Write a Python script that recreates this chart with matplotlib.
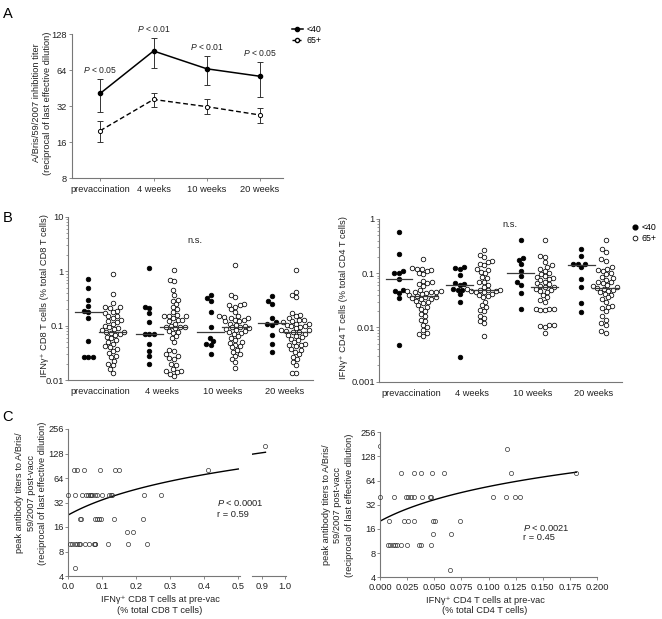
import numpy as np
import matplotlib
matplotlib.use("Agg")
import matplotlib.pyplot as plt
from matplotlib.lines import Line2D
from matplotlib.ticker import FixedLocator, NullLocator, NullFormatter, FuncFormatter, LogLocator

plt.rcParams['font.family'] = ['Liberation Sans', 'DejaVu Sans']
plt.rcParams['mathtext.fontset'] = 'custom'
plt.rcParams['mathtext.rm'] = 'Liberation Sans'
plt.rcParams['mathtext.it'] = 'Liberation Sans:italic'

FS = 6.7
INK = '#222222'
AXC = '#777777'

# ---------------- data ----------------
timepoints = ["prevaccination", "4 weeks", "10 weeks", "20 weeks"]

# panel A: HAI titers (geometric mean with error bar ends)
young_titer = [40.8, 92.3, 65.5, 56.7]
young_hi = [54.1, 119.3, 84.2, 75.1]
young_lo = [28.3, 66.0, 47.6, 38.2]
old_titer = [19.9, 36.3, 31.6, 26.9]
old_hi = [23.8, 41.4, 36.3, 30.9]
old_lo = [16.1, 31.6, 27.3, 22.9]
p_labels = ["< 0.05", "< 0.01", "< 0.01", "< 0.05"]

# panel B left: IFNg+ CD8 T cells (% of CD8)
cd8_young = [
    [0.72, 0.50, 0.30, 0.23, 0.19, 0.18, 0.137, 0.053, 0.027, 0.027, 0.027],
    [1.13, 0.22, 0.21, 0.17, 0.115, 0.07, 0.07, 0.07, 0.046, 0.035, 0.028, 0.02],
    [0.36, 0.32, 0.28, 0.176, 0.096, 0.06, 0.052, 0.047, 0.044, 0.03],
    [0.355, 0.28, 0.25, 0.14, 0.115, 0.11, 0.105, 0.068, 0.047, 0.033],
]
cd8_old = [
    [0.9, 0.38, 0.26, 0.22, 0.22, 0.21, 0.19, 0.18, 0.17, 0.15, 0.15, 0.14, 0.13, 0.12, 0.115,
     0.11, 0.1, 0.095, 0.09, 0.088, 0.082, 0.078, 0.077, 0.075, 0.072, 0.068, 0.063, 0.06, 0.055,
     0.05, 0.047, 0.042, 0.04, 0.037, 0.035, 0.032, 0.028, 0.027, 0.023, 0.02, 0.019, 0.016, 0.0135],
    [1.05, 0.7, 0.65, 0.45, 0.37, 0.3, 0.29, 0.25, 0.22, 0.2, 0.18, 0.16, 0.15, 0.15, 0.15, 0.14,
     0.13, 0.13, 0.12, 0.11, 0.1, 0.096, 0.095, 0.093, 0.09, 0.08, 0.078, 0.075, 0.065, 0.06, 0.05,
     0.036, 0.034, 0.03, 0.028, 0.026, 0.025, 0.02, 0.019, 0.016, 0.015, 0.015, 0.014, 0.013, 0.012],
    [1.3, 0.36, 0.34, 0.25, 0.24, 0.24, 0.22, 0.2, 0.18, 0.15, 0.15, 0.145, 0.14, 0.14, 0.13, 0.13,
     0.12, 0.12, 0.11, 0.105, 0.1, 0.095, 0.093, 0.09, 0.088, 0.085, 0.08, 0.078, 0.075, 0.072,
     0.065, 0.06, 0.055, 0.05, 0.048, 0.045, 0.042, 0.04, 0.036, 0.033, 0.03, 0.028, 0.025, 0.022, 0.0165],
    [1.05, 0.41, 0.36, 0.33, 0.17, 0.16, 0.15, 0.14, 0.13, 0.13, 0.12, 0.115, 0.11, 0.11, 0.105, 0.1,
     0.098, 0.095, 0.09, 0.085, 0.082, 0.08, 0.078, 0.076, 0.072, 0.068, 0.066, 0.062, 0.058, 0.055,
     0.05, 0.047, 0.045, 0.044, 0.042, 0.038, 0.036, 0.033, 0.03, 0.027, 0.025, 0.022, 0.019, 0.0135, 0.0135],
]

# panel B right: IFNg+ CD4 T cells (% of CD4)
cd4_young = [
    [0.57, 0.23, 0.11, 0.103, 0.1, 0.077, 0.05, 0.047, 0.044, 0.035, 0.0047],
    [0.128, 0.125, 0.12, 0.093, 0.066, 0.062, 0.061, 0.052, 0.05, 0.049, 0.041, 0.03, 0.0028],
    [0.41, 0.19, 0.175, 0.146, 0.11, 0.089, 0.07, 0.061, 0.044, 0.0216],
    [0.28, 0.21, 0.148, 0.148, 0.148, 0.13, 0.077, 0.055, 0.028, 0.019],
]
cd4_old = [
    [0.18, 0.125, 0.12, 0.12, 0.115, 0.11, 0.1, 0.095, 0.072, 0.068, 0.065, 0.062, 0.058, 0.05,
     0.048, 0.047, 0.046, 0.045, 0.045, 0.044, 0.042, 0.04, 0.038, 0.037, 0.036, 0.035, 0.034,
     0.033, 0.031, 0.03, 0.028, 0.026, 0.024, 0.022, 0.02, 0.018, 0.016, 0.014, 0.013, 0.011,
     0.01, 0.009, 0.008, 0.0075, 0.007],
    [0.27, 0.22, 0.2, 0.17, 0.16, 0.15, 0.14, 0.12, 0.115, 0.105, 0.1, 0.085, 0.08, 0.07, 0.068,
     0.06, 0.055, 0.052, 0.05, 0.05, 0.049, 0.048, 0.047, 0.046, 0.045, 0.042, 0.04, 0.038, 0.036,
     0.03, 0.026, 0.024, 0.021, 0.02, 0.016, 0.015, 0.013, 0.012, 0.007],
    [0.41, 0.21, 0.2, 0.16, 0.14, 0.13, 0.12, 0.11, 0.1, 0.098, 0.09, 0.085, 0.08, 0.078, 0.075,
     0.07, 0.066, 0.062, 0.058, 0.056, 0.055, 0.052, 0.05, 0.047, 0.045, 0.04, 0.036, 0.032, 0.03,
     0.022, 0.022, 0.021, 0.021, 0.022, 0.011, 0.0105, 0.01, 0.011, 0.0078],
    [0.41, 0.28, 0.25, 0.18, 0.17, 0.13, 0.12, 0.115, 0.11, 0.1, 0.095, 0.085, 0.08, 0.075, 0.07,
     0.068, 0.065, 0.06, 0.058, 0.055, 0.053, 0.052, 0.05, 0.048, 0.045, 0.042, 0.04, 0.036, 0.034,
     0.03, 0.025, 0.024, 0.023, 0.02, 0.016, 0.014, 0.012, 0.011, 0.0085, 0.008],
]

# panel C left: pre-vac CD8 response vs peak titer
cd8_pre = [0.017, 0.027, 0.047, 0.094, 0.137, 0.151, 0.41,
           0.0, 0.02, 0.04, 0.054, 0.06, 0.064, 0.067, 0.07, 0.078, 0.085, 0.1, 0.12, 0.125, 0.13, 0.222, 0.272,
           0.035, 0.038, 0.078, 0.084, 0.09, 0.098, 0.134, 0.221,
           0.172, 0.19,
           0.006, 0.013, 0.02, 0.026, 0.031, 0.036, 0.05, 0.062, 0.075, 0.078, 0.08, 0.118, 0.176, 0.232,
           0.021,
           0.915]
cd8_peak = [80, 80, 80, 80, 80, 80, 80,
            40, 40, 40, 40, 40, 40, 40, 40, 40, 40, 40, 40, 40, 40, 40, 40,
            20, 20, 20, 20, 20, 20, 20, 20,
            14, 14,
            10, 10, 10, 10, 10, 10, 10, 10, 10, 10, 10, 10, 10, 10,
            5,
            160]
cd8_fit = (22.4, 120.4)   # intercept, slope of regression line

# panel C right: pre-vac CD4 response vs peak titer
cd4_pre = [0.1175,
           0.019, 0.031, 0.038, 0.048, 0.059, 0.121, 0.181,
           0.0, 0.0129, 0.0237, 0.026, 0.029, 0.031, 0.039, 0.046, 0.047, 0.1046, 0.116, 0.124, 0.129,
           0.008, 0.0218, 0.0256, 0.031, 0.049, 0.0505, 0.074,
           0.0486, 0.0655,
           0.0072, 0.0095, 0.0118, 0.0141, 0.0161, 0.0192, 0.0249, 0.0357, 0.038, 0.0468,
           0.0646]
cd4_peak = [160,
            80, 80, 80, 80, 80, 80, 80,
            40, 40, 40, 40, 40, 40, 40, 40, 40, 40, 40, 40, 40,
            20, 20, 20, 20, 20, 20, 20,
            14, 14,
            10, 10, 10, 10, 10, 10, 10, 10, 10, 10,
            5]
cd4_fit = (20.0, 340.0)

# ---------------- helpers ----------------
W, H = 662, 619
fig = plt.figure(figsize=(W / 100, H / 100), dpi=100)


def px_axes(left, top, right, bottom):
    return fig.add_axes([left / W, 1 - bottom / H, (right - left) / W, (bottom - top) / H])


def style(ax):
    for s in ['top', 'right']:
        ax.spines[s].set_visible(False)
    for s in ['left', 'bottom']:
        ax.spines[s].set_color(AXC)
        ax.spines[s].set_linewidth(0.8)
    ax.tick_params(colors=AXC, labelcolor=INK, labelsize=FS, width=0.6, length=2.5, pad=1.5)
    ax.tick_params(which='minor', colors=AXC, width=0.5, length=1.5)


def swarm_x(ax, xc, vals, d=4.7):
    """beeswarm offsets in pixel space, returned in data x"""
    vals = np.asarray(vals, float)
    ypx = ax.transData.transform(np.column_stack([np.full(vals.size, xc), vals]))[:, 1]
    p0 = ax.transData.transform([(0, 1), (1, 1)])
    px_unit = p0[1, 0] - p0[0, 0]
    offs = np.zeros(vals.size)
    placed = []
    for idx in np.argsort(ypx):
        y = ypx[idx]
        near = [(xo, yo) for xo, yo in placed if abs(yo - y) < d]
        cands = [0.0]
        for xo, yo in near:
            dx = np.sqrt(d * d - (yo - y) ** 2)
            cands += [xo + dx, xo - dx]
        cands.sort(key=lambda c: (abs(c), c))
        for c in cands:
            if all((c - xo) ** 2 + (y - yo) ** 2 >= d * d - 1e-6 for xo, yo in near):
                break
        offs[idx] = c
        placed.append((c, y))
    return xc + offs / px_unit


def pow2_fmt(v, pos):
    return f"{int(round(v))}"


# ---------------- panel A ----------------
axA = px_axes(72, 34, 283, 178)
style(axA)
x = np.arange(len(timepoints))
axA.set_yscale('log', base=2)
axA.set_ylim(8, 128)
axA.set_xlim(-0.53, 3.43)
e1 = axA.errorbar(x, young_titer,
                  yerr=[np.subtract(young_titer, young_lo), np.subtract(young_hi, young_titer)],
                  fmt='-o', color='k', ms=3, lw=1.1, elinewidth=0.7, capsize=2, capthick=0.7, ecolor='#333')
e2 = axA.errorbar(x, old_titer,
                  yerr=[np.subtract(old_titer, old_lo), np.subtract(old_hi, old_titer)],
                  fmt='--o', color='k', mfc='white', mec='k', mew=0.7, ms=3, lw=1.0,
                  elinewidth=0.7, capsize=2, capthick=0.7, ecolor='#333')
e2.lines[0].set_dashes([3.5, 2])
axA.yaxis.set_major_locator(FixedLocator([8, 16, 32, 64, 128]))
axA.yaxis.set_major_formatter(FuncFormatter(pow2_fmt))
axA.yaxis.set_minor_locator(NullLocator())
axA.set_xticks(x)
axA.set_xticklabels(timepoints)
axA.tick_params(axis='x', length=2, pad=3)
for i, (hi, lab) in enumerate(zip(young_hi, p_labels)):
    axA.annotate(f"$P$ {lab}", (i, hi), xytext=(0, 2.5), textcoords='offset points',
                 ha='center', va='bottom', fontsize=6.2, color=INK)
axA.legend(handles=[Line2D([], [], color='k', lw=1.1, marker='o', ms=3),
                    Line2D([], [], color='k', lw=1.0, ls=(0, (2.5, 1.5)), marker='o', ms=3, mfc='white')],
           labels=['<40', '65+'], loc='upper left', bbox_to_anchor=(1.02, 1.09), frameon=False,
           fontsize=FS - 0.4, handlelength=1.3, handletextpad=0.4, borderpad=0, labelspacing=0.15)
fig.text(42 / W, 1 - 103 / H, "A/Bris/59/2007 inhibition titer\n(reciprocal of last effective dilution)",
         rotation=90, ha='center', va='center', fontsize=FS, color=INK, linespacing=1.4,
         multialignment='center')


# ---------------- panel B ----------------
def dot_panel(ax, young, old, ylim, ticks):
    style(ax)
    ax.set_yscale('log')
    ax.set_ylim(*ylim)
    ax.set_xlim(-0.53, 3.47)
    ax.yaxis.set_major_locator(FixedLocator(ticks))
    ax.yaxis.set_major_formatter(FuncFormatter(lambda v, p: f"{v:g}"))
    ax.yaxis.set_minor_locator(LogLocator(base=10, subs=np.arange(2, 10)))
    ax.yaxis.set_minor_formatter(NullFormatter())
    ax.tick_params(axis='y', length=2, pad=1)
    ax.set_xticks(np.arange(len(timepoints)))
    ax.set_xticklabels(timepoints)
    ax.tick_params(axis='x', length=0, pad=5)
    for i in range(len(timepoints)):
        for vals, off, face in [(young[i], -0.2, 'k'), (old[i], 0.2, 'white')]:
            xs = swarm_x(ax, i + off, vals)
            ax.plot(xs, vals, 'o', ls='none', ms=3.3, mfc=face, mec='k', mew=0.55, zorder=3)
            med = np.median(vals)
            ax.plot([i + off - 0.22, i + off + 0.22], [med, med], color='#3a3a3a', lw=0.9, zorder=4)


axBL = px_axes(68, 216.7, 313, 380.3)
dot_panel(axBL, cd8_young, cd8_old, (0.01, 10), [0.01, 0.1, 1, 10])
axBL.text(0.518, 0.857, "n.s.", transform=axBL.transAxes, ha='center', va='center', fontsize=FS, color=INK)
fig.text(45 / W, 1 - 296 / H, "IFNγ⁺ CD8 T cells (% total CD8 T cells)", rotation=90,
         ha='center', va='center', fontsize=FS, color=INK)

axBR = px_axes(379, 219, 622, 381.7)
dot_panel(axBR, cd4_young, cd4_old, (0.001, 1), [0.001, 0.01, 0.1, 1])
axBR.text(0.539, 0.969, "n.s.", transform=axBR.transAxes, ha='center', va='center', fontsize=FS, color=INK)
fig.text(344 / W, 1 - 298 / H, "IFNγ⁺ CD4 T cells (% total CD4 T cells)", rotation=90,
         ha='center', va='center', fontsize=FS, color=INK)
axBR.legend(handles=[Line2D([], [], ls='none', marker='o', ms=3.4, color='k'),
                     Line2D([], [], ls='none', marker='o', ms=3.4, mfc='white', mec='k', mew=0.6)],
            labels=['<40', '65+'], loc='upper left', bbox_to_anchor=(1.02, 1.0), frameon=False,
            fontsize=FS - 0.4, handlelength=0.8, handletextpad=0.4, borderpad=0, labelspacing=0.2)


# ---------------- panel C ----------------
def titer_axis(ax):
    ax.set_yscale('log', base=2)
    ax.set_ylim(4, 256)
    ax.yaxis.set_major_locator(FixedLocator([4, 8, 16, 32, 64, 128, 256]))
    ax.yaxis.set_major_formatter(FuncFormatter(pow2_fmt))
    ax.yaxis.set_minor_locator(NullLocator())
    ax.tick_params(axis='y', length=2, pad=0.8)


pt_kw = dict(ls='none', marker='o', ms=3.0, mfc='none', mec='#333', mew=0.5, clip_on=False, zorder=3)
ylab_c = "peak antibody titers to A/Bris/\n59/2007 post-vacc\n(reciprocal of last effective dilution)"

axCL = px_axes(68, 429, 240, 576)
style(axCL)
titer_axis(axCL)
axCL.set_xlim(0, 0.505)
axCL.set_xticks([0, 0.1, 0.2, 0.3, 0.4, 0.5])
axCL.xaxis.set_major_formatter(FuncFormatter(lambda v, p: f"{v:.1f}"))
axCL.plot(cd8_pre, cd8_peak, **pt_kw)
xf = np.linspace(0, 0.5, 60)
axCL.plot(xf, cd8_fit[0] + cd8_fit[1] * xf, color='k', lw=1.0)
axCL.text(0.866, 0.497, "$P$ < 0.0001", transform=axCL.transAxes, ha='left', va='center', fontsize=FS, color=INK)
axCL.text(0.866, 0.415, "r = 0.59", transform=axCL.transAxes, ha='left', va='center', fontsize=FS, color=INK)

axCB = px_axes(252, 429, 286, 576)
style(axCB)
titer_axis(axCB)
axCB.patch.set_visible(False)
axCB.spines['left'].set_visible(False)
axCB.tick_params(axis='y', left=False, labelleft=False)
axCB.set_xlim(0.856, 1.005)
axCB.set_xticks([0.9, 1.0])
axCB.xaxis.set_major_formatter(FuncFormatter(lambda v, p: f"{v:.1f}"))
axCB.plot(cd8_pre, cd8_peak, **dict(pt_kw, clip_on=True))
xf2 = np.linspace(0.856, max(cd8_pre), 10)
axCB.plot(xf2, cd8_fit[0] + cd8_fit[1] * xf2, color='k', lw=1.0)

fig.text(160 / W, 1 - 605 / H, "IFNγ⁺ CD8 T cells at pre-vac\n(% total CD8 T cells)", ha='center',
         va='center', fontsize=FS, color=INK, linespacing=1.25)
fig.text(31 / W, 1 - 493 / H, ylab_c, rotation=90, ha='center', va='center', fontsize=FS,
         color=INK, linespacing=1.4, multialignment='center')

axCR = px_axes(380, 432.3, 597, 577.3)
style(axCR)
titer_axis(axCR)
axCR.set_xlim(0, 0.2)
axCR.set_xticks(np.arange(0, 0.2001, 0.025))
axCR.xaxis.set_major_formatter(FuncFormatter(lambda v, p: f"{v:.3f}"))
axCR.plot(cd4_pre, cd4_peak, **pt_kw)
xf3 = np.linspace(0, max(cd4_pre), 60)
axCR.plot(xf3, cd4_fit[0] + cd4_fit[1] * xf3, color='k', lw=1.0)
axCR.text(0.66, 0.338, "$P$ < 0.0021", transform=axCR.transAxes, ha='left', va='center', fontsize=FS, color=INK)
axCR.text(0.66, 0.273, "r = 0.45", transform=axCR.transAxes, ha='left', va='center', fontsize=FS, color=INK)
fig.text(485 / W, 1 - 605.5 / H, "IFNγ⁺ CD4 T cells at pre-vac\n(% total CD4 T cells)", ha='center',
         va='center', fontsize=FS, color=INK, linespacing=1.25)
fig.text(338 / W, 1 - 505 / H, ylab_c, rotation=90, ha='center', va='center', fontsize=FS,
         color=INK, linespacing=1.4, multialignment='center')

# panel letters
for lab, (px, py) in zip("ABC", [(3, 18), (3, 222), (2, 421)]):
    fig.text(px / W, 1 - py / H, lab, fontsize=10.5, ha='left', va='baseline', color='k')

fig.savefig("out.png", dpi=100, facecolor='white')
